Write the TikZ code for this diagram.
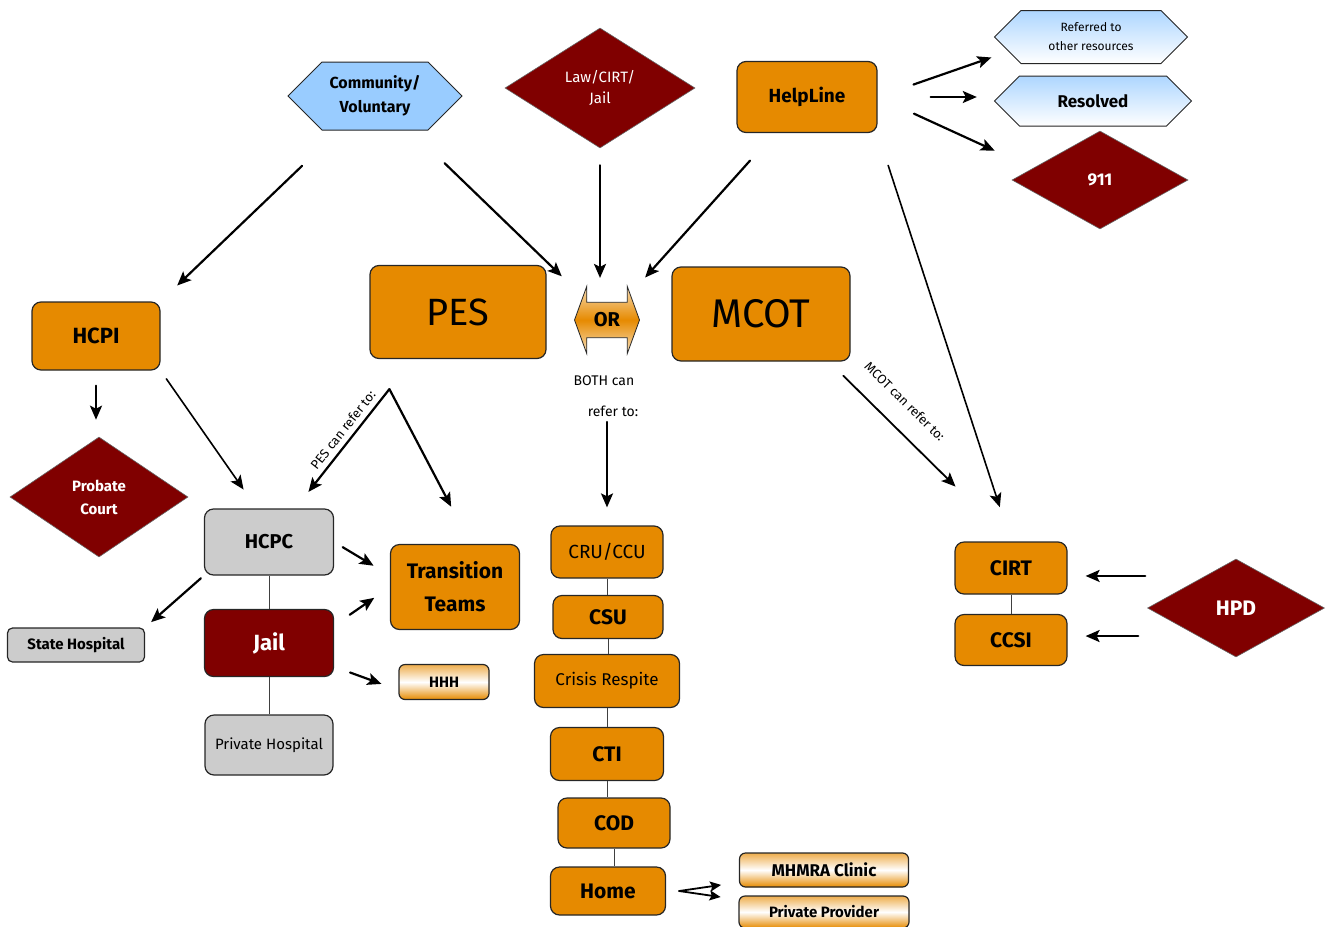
\documentclass[tikz,border=0pt]{standalone}
\usepackage{fontspec}
\setmainfont{Fira Sans}
\usetikzlibrary{shapes.geometric,shapes.symbols,shapes.arrows,arrows.meta}
\definecolor{boxorange}{RGB}{230,138,0}
\definecolor{darkred}{RGB}{128,0,0}
\definecolor{boxgray}{RGB}{204,204,204}
\definecolor{skyblue}{RGB}{153,204,255}
\newcommand\fsz[2]{\fontsize{#1}{#2}\selectfont}
\tikzset{
  box/.style={draw=black!85,line width=1.2pt,rounded corners=9pt,fill=boxorange,inner sep=0pt,align=center},
  graybox/.style={box,fill=boxgray},
  redbox/.style={box,fill=darkred,text=white},
  peachbox/.style={box,rounded corners=6pt,top color=boxorange!70,bottom color=boxorange,middle color=white},
  decide/.style={diamond,aspect=1.6,fill=darkred,draw=black!60,line width=0.6pt,inner sep=0pt,text=white,align=center},
  hexa/.style={signal,signal to=east and west,signal pointer angle=90,draw=black!85,line width=1pt,inner sep=0pt,align=center},
  flow/.style={line width=2.2pt,line cap=round,-{Stealth[length=14pt,width=12pt,inset=3pt]}},
  thinflow/.style={flow,line width=1.6pt},
  link/.style={line width=0.8pt,draw=black!75}
}
\begin{document}
\begin{tikzpicture}[x=1pt,y=-1pt]
\useasboundingbox (0,0) rectangle (1332,926);
% sources
\node[hexa,fill=skyblue,minimum width=174pt,minimum height=68pt,font=\fsz{16}{24}\bfseries] (comm) at (375,96) {Community/\\Voluntary};
\node[decide,minimum width=190pt,minimum height=120pt,font=\fsz{15}{21}] (law) at (600,88) {Law/CIRT/\\Jail};
\node[box,minimum width=140pt,minimum height=71pt,font=\fsz{19}{23}\bfseries] (help) at (807,97) {HelpLine};
\node[hexa,top color=skyblue!80,bottom color=white,minimum width=193pt,minimum height=53pt,font=\fsz{12}{19}] (refer) at (1091,37) {Referred to\\other resources};
\node[hexa,top color=skyblue!80,bottom color=white,minimum width=197pt,minimum height=50pt,font=\fsz{17}{20}\bfseries] (resolved) at (1093,101) {Resolved};
\node[decide,minimum width=176pt,minimum height=98pt,font=\fsz{17}{20}\bfseries] (call) at (1100,180) {911};
% middle row
\node[box,minimum width=128pt,minimum height=68pt,font=\fsz{22}{26}\bfseries] (hcpi) at (96,336) {HCPI};
\node[box,minimum width=176pt,minimum height=93pt,font=\fsz{38}{44}] (pes) at (458,312) {PES};
\node[double arrow,double arrow head extend=16pt,double arrow tip angle=140,minimum height=65pt,minimum width=67pt,
  inner xsep=2pt,inner ysep=10pt,draw=black!85,line width=0.8pt,top color=boxorange!30,bottom color=boxorange!25,middle color=boxorange,
  font=\fsz{20}{20}\bfseries] (or) at (607,320) {OR};
\node[box,minimum width=178pt,minimum height=94pt,font=\fsz{40}{44}] (mcot) at (761,314) {MCOT};
\node[font=\fsz{14}{16}] (both) at (604,381) {BOTH can};
\node[font=\fsz{14}{16}] (bothto) at (613,411) {refer to:};
% left group
\node[decide,minimum width=178pt,minimum height=120pt,font=\fsz{15}{23}\bfseries] (probate) at (99,497) {Probate\\Court};
\node[graybox,minimum width=129pt,minimum height=66pt,font=\fsz{20}{24}\bfseries] (hcpc) at (269,542) {HCPC};
\node[graybox,rounded corners=5pt,minimum width=137pt,minimum height=34pt,font=\fsz{15}{18}\bfseries] (statehosp) at (76,645) {State Hospital};
\node[redbox,minimum width=129pt,minimum height=67pt,font=\fsz{22}{26}\bfseries] (jail) at (269,643) {Jail};
\node[graybox,minimum width=128pt,minimum height=60pt,font=\fsz{15}{18}] (privhosp) at (269,745) {Private Hospital};
\node[box,minimum width=129pt,minimum height=85pt,font=\fsz{21}{33}\bfseries] (trans) at (455,587) {Transition\\Teams};
\node[peachbox,minimum width=90pt,minimum height=35pt,font=\fsz{15}{18}\bfseries] (hhh) at (444,682) {HHH};
% crisis column
\node[box,minimum width=112pt,minimum height=52pt,font=\fsz{19}{22}] (cru) at (607,552) {CRU/CCU};
\node[box,minimum width=110pt,minimum height=43pt,font=\fsz{21}{24}\bfseries] (csu) at (608,617) {CSU};
\node[box,minimum width=145pt,minimum height=53pt,font=\fsz{17}{20}] (respite) at (607,681) {Crisis Respite};
\node[box,minimum width=113pt,minimum height=53pt,font=\fsz{21}{24}\bfseries] (cti) at (607,754) {CTI};
\node[box,minimum width=112pt,minimum height=50pt,font=\fsz{21}{24}\bfseries] (cod) at (614,823) {COD};
\node[box,minimum width=115pt,minimum height=48pt,font=\fsz{21}{24}\bfseries] (home) at (608,891) {Home};
\node[peachbox,minimum width=169pt,minimum height=34pt,font=\fsz{17}{20}\bfseries] (mhmra) at (824,870) {MHMRA Clinic};
\node[peachbox,minimum width=170pt,minimum height=32pt,font=\fsz{15}{18}\bfseries] (pprov) at (824,912) {Private Provider};
% right group
\node[box,minimum width=112pt,minimum height=52pt,font=\fsz{21}{24}\bfseries] (cirt) at (1011,568) {CIRT};
\node[box,minimum width=112pt,minimum height=51pt,font=\fsz{21}{24}\bfseries] (ccsi) at (1011,640) {CCSI};
\node[decide,minimum width=177pt,minimum height=98pt,font=\fsz{21}{24}\bfseries] (hpd) at (1236,608) {HPD};

% referrals
\draw[flow,shorten <=51pt,shorten >=23pt] (comm) -- (hcpi.north east);
\draw[flow,shorten <=47pt,shorten >=29pt] (comm) -- (or);
\draw[flow,shorten <=17pt,shorten >=24pt] (law.south) -- (law.south |- or.north);
\draw[flow,shorten <=37pt,shorten >=22pt] (help) -- (or);
\draw[thinflow,shorten <=34pt,shorten >=36pt] (help.south east) -- (cirt.north);
\draw[flow,shorten <=38pt,shorten >=18pt] (help.east) -- (refer.190);
\draw[flow,shorten <=53pt,shorten >=17pt] (help.east) -- (help.east -| resolved.west);
\draw[flow,shorten <=40pt,shorten >=42pt] (help.east) -- (call.170);
\draw[flow,shorten <=15pt,shorten >=17pt] (hcpi.south) -- (hcpi.south |- probate.north);
\draw[thinflow,shorten <=10pt,shorten >=23pt] (hcpi.south east) -- (hcpc.110);

\coordinate (pesfork) at ([xshift=20pt,yshift=-30pt]pes.south west);
\draw[flow,shorten >=21pt] (pesfork) -- node[pos=0.4,sloped,above=2pt,font=\fsz{13}{15}] (peslabel) {PES can refer to:} (hcpc);
\draw[flow,shorten >=42pt] (pesfork) -- (trans.70);
\draw[flow,shorten <=2pt,shorten >=18pt] (bothto.south -| cru.north) -- (cru.north);
\draw[flow,line width=1.8pt,shorten <=20pt,shorten >=78pt] (mcot.-35) -- node[pos=0.32,sloped,above=16pt,font=\fsz{13}{15}] (mcotlabel) {MCOT can refer to:} (cirt.north);

\draw[flow,shorten <=10pt,shorten >=19pt] (hcpc.east) -- (trans.170);
\draw[flow,shorten <=19pt,shorten >=19pt] (jail.15) -- (trans.west);
\draw[flow,shorten <=17pt,shorten >=18pt] (jail.-20) -- (hhh.190);
\draw[flow,shorten <=4pt,shorten >=8pt] (hcpc.south west) -- (statehosp.north east);
\draw[flow,shorten <=2pt,shorten >=18pt] (hpd.west |- cirt.-8) -- (cirt.-8);
\draw[flow,shorten <=9pt,shorten >=18pt] (hpd.west |- ccsi.4) -- (ccsi.4);

\coordinate (homefork) at ([xshift=13pt]home.east);
\draw[flow,line width=1.8pt,-{Stealth[length=11pt,width=10pt,inset=2pt]},shorten >=18pt] (homefork) -- (mhmra);
\draw[flow,line width=1.8pt,-{Stealth[length=11pt,width=10pt,inset=2pt]},shorten >=18pt] (homefork) -- (pprov);

% plain links
\draw[link] (hcpc) -- (jail);
\draw[link] (jail) -- (privhosp);
\draw[link] (cirt) -- (ccsi);
\foreach \a/\b in {cru/csu,csu/respite,respite/cti,cti/cod,cod/home}
  \draw[link] (\a) -- (\a |- \b.north);
\end{tikzpicture}
\end{document}
